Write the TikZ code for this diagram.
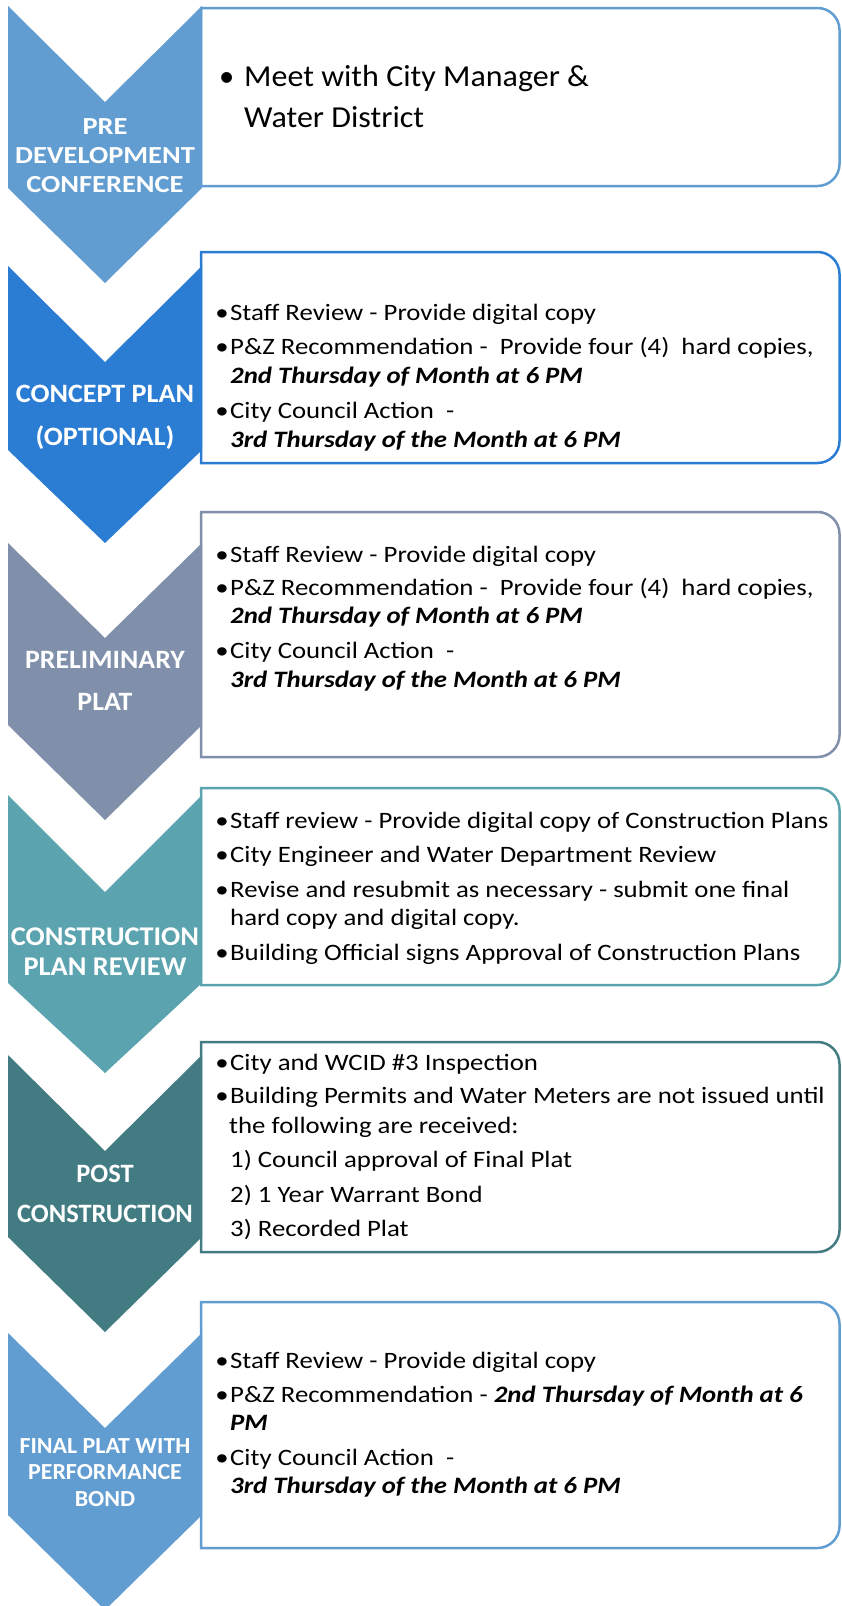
\documentclass[tikz,border=0pt]{standalone}
\usepackage{fontspec}
\usepackage{graphicx}
\setmainfont{Carlito}[FakeStretch=1.14]
\newfontfamily\plainfont{Carlito}
\definecolor{cA}{HTML}{629DD1}
\definecolor{cB}{HTML}{2B7CD3}
\definecolor{cC}{HTML}{808FAA}
\definecolor{cD}{HTML}{5BA3AE}
\definecolor{cE}{HTML}{427C82}
\newcommand\mybul{\llap{•\kern1.5pt}}
\newcommand\bi[1]{\textbf{\textit{#1}}}
\newcommand\sx[2]{\scalebox{#1}[1]{#2}}
\newcommand\chevron[5]{\fill[#1] (8,#2) -- (105,#3) -- (202,#2) -- (202,#4) -- (105,#5) -- (8,#4) -- cycle;}
\newcommand\stepbox[3]{\draw[boxline=#1] (520,#2) [rounded corners=22pt] -- (839.5,#2) -- (839.5,#3) -- (520,#3) [sharp corners] -- (201,#3) -- (201,#2) -- cycle;}
\begin{document}
\begin{tikzpicture}[x=1pt,y=-1pt,
  chevtext/.style={anchor=base, text=white, inner sep=0pt, font=\plainfont\bfseries\fontsize{#1}{#1}\selectfont},
  bodytext/.style={anchor=base west, inner sep=0pt, font=\fontsize{23.5}{28}\selectfont},
  bigtext/.style={anchor=base west, inner sep=0pt, font=\plainfont\fontsize{30.5}{36}\selectfont},
  boxline/.style={draw=#1, line width=2.5pt}]
\useasboundingbox (0,0) rectangle (841,1606);
% chevrons
\chevron{cA}{6}{102}{188}{283}
\chevron{cB}{266}{362}{450}{543}
\chevron{cC}{543}{638}{725}{820}
\chevron{cD}{795}{892}{983}{1073}
\chevron{cE}{1055}{1151}{1237}{1332}
\chevron{cA}{1333}{1428}{1515}{1610}
% boxes
\stepbox{cA}{8}{186}
\stepbox{cB}{252}{463}
\stepbox{cC}{512}{757}
\stepbox{cD}{788}{985}
\stepbox{cE}{1042}{1252}
\stepbox{cA}{1302}{1548}
% chevron labels
\node[chevtext=24.5] (l1a) at (105,134) {\sx{1.16}{PRE}};
\node[chevtext=24.5] (l1b) at (105,163) {\sx{1.16}{DEVELOPMENT}};
\node[chevtext=24.5] (l1c) at (105,192) {\sx{1.16}{CONFERENCE}};
\node[chevtext=26.5] (l2a) at (105,402) {\sx{1.06}{CONCEPT PLAN}};
\node[chevtext=26.5] (l2b) at (105,445) {\sx{1.06}{(OPTIONAL)}};
\node[chevtext=26.5] (l3a) at (105,668) {\sx{1.05}{PRELIMINARY}};
\node[chevtext=26.5] (l3b) at (105,710) {\sx{1.05}{PLAT}};
\node[chevtext=27] (l4a) at (105,945) {\sx{1.05}{CONSTRUCTION}};
\node[chevtext=27] (l4b) at (105,975) {\sx{1.05}{PLAN REVIEW}};
\node[chevtext=26.5] (l5a) at (105,1182) {POST};
\node[chevtext=26.5] (l5b) at (105,1222) {CONSTRUCTION};
\node[chevtext=23] (l6a) at (105,1453) {\sx{1.04}{FINAL PLAT WITH}};
\node[chevtext=23] (l6b) at (105,1479) {\sx{1.04}{PERFORMANCE}};
\node[chevtext=23] (l6c) at (105,1506) {\sx{1.04}{BOND}};
% box 1
\node[bigtext] (t1a) at (244,86) {\llap{•\hspace{10pt}}\sx{1.05}{Meet with City Manager \&}};
\node[bigtext] (t1b) at (244,127) {\sx{1.05}{Water District}};
% box 2
\node[bodytext] (t2a) at (230,320) {\mybul Staff Review - Provide digital copy};
\node[bodytext] (t2b) at (230,354) {\mybul P\&Z Recommendation -\ \ Provide four (4)\ \ hard copies,};
\node[bodytext] (t2c) at (230,383) {\bi{2nd Thursday of Month at 6 PM}};
\node[bodytext] (t2d) at (230,418) {\mybul City Council Action\ \ -};
\node[bodytext] (t2e) at (230,447) {\bi{3rd Thursday of the Month at 6 PM}};
% box 3
\node[bodytext] (t3a) at (230,562) {\mybul Staff Review - Provide digital copy};
\node[bodytext] (t3b) at (230,595) {\mybul P\&Z Recommendation -\ \ Provide four (4)\ \ hard copies,};
\node[bodytext] (t3c) at (230,623) {\bi{2nd Thursday of Month at 6 PM}};
\node[bodytext] (t3d) at (230,658) {\mybul City Council Action\ \ -};
\node[bodytext] (t3e) at (230,687) {\bi{3rd Thursday of the Month at 6 PM}};
% box 4
\node[bodytext] (t4a) at (230,828) {\mybul Staff review - Provide digital copy of Construction Plans};
\node[bodytext] (t4b) at (230,862) {\mybul City Engineer and Water Department Review};
\node[bodytext] (t4c) at (230,897) {\mybul Revise and resubmit as necessary - submit one final};
\node[bodytext] (t4d) at (230,925) {hard copy and digital copy.};
\node[bodytext] (t4e) at (230,960) {\mybul Building Official signs Approval of Construction Plans};
% box 5
\node[bodytext] (t5a) at (230,1070) {\mybul City and WCID \#3 Inspection};
\node[bodytext] (t5b) at (230,1103) {\mybul Building Permits and Water Meters are not issued until};
\node[bodytext] (t5c) at (229,1133) {the following are received:};
\node[bodytext] (t5d) at (230,1167) {1) Council approval of Final Plat};
\node[bodytext] (t5e) at (230,1202) {2) 1 Year Warrant Bond};
\node[bodytext] (t5f) at (230,1236) {3) Recorded Plat};
% box 6
\node[bodytext] (t6a) at (230,1368) {\mybul Staff Review - Provide digital copy};
\node[bodytext] (t6b) at (230,1402) {\mybul P\&Z Recommendation - \bi{2nd Thursday of Month at 6}};
\node[bodytext] (t6c) at (230,1430) {\bi{PM}};
\node[bodytext] (t6d) at (230,1465) {\mybul City Council Action\ \ -};
\node[bodytext] (t6e) at (230,1493) {\bi{3rd Thursday of the Month at 6 PM}};
\end{tikzpicture}
\end{document}
